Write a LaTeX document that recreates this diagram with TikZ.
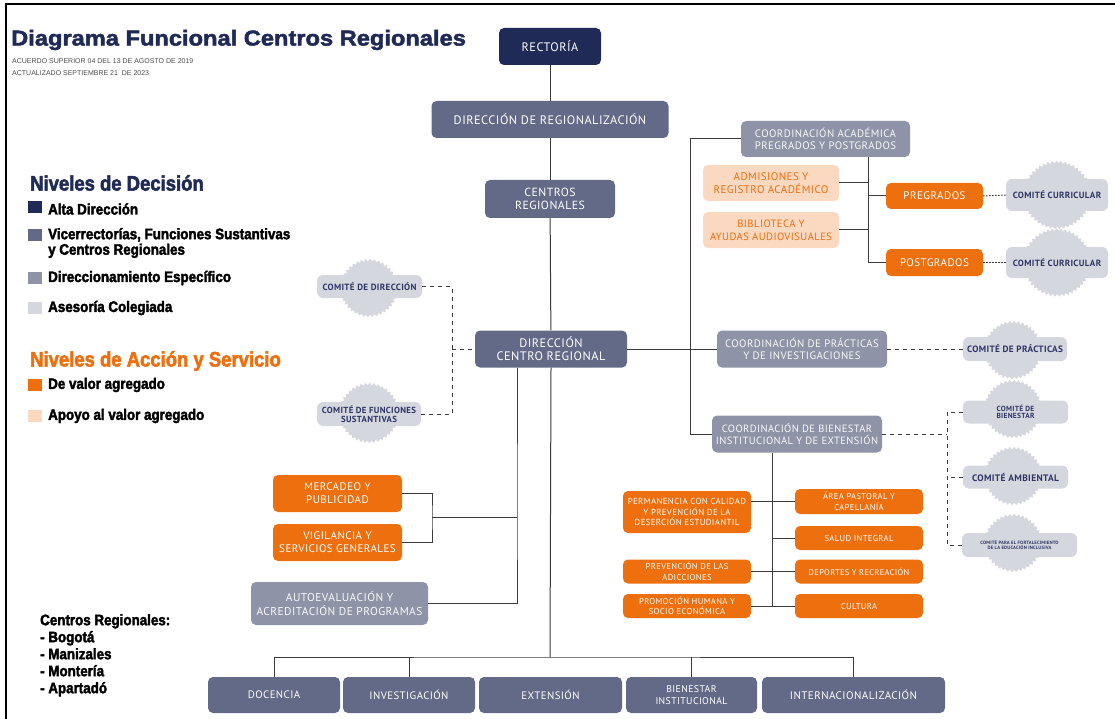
\documentclass[tikz,border=0pt]{standalone}
\usepackage{fontspec}
\setmainfont{PT Sans}[LetterSpace=4]
\newfontfamily\titlefont[FakeStretch=1.1,BoldFeatures={FakeBold=2.2}]{Liberation Sans}
\newfontfamily\legfont[FakeStretch=0.88,BoldFeatures={FakeBold=2.4}]{Liberation Sans}
\newfontfamily\smallfont{Liberation Sans}
\usetikzlibrary{decorations.pathmorphing}
\definecolor{navy}{HTML}{1F2A56}
\definecolor{slate}{HTML}{636A87}
\definecolor{grayb}{HTML}{8E93A7}
\definecolor{comfill}{HTML}{D5D7DE}
\definecolor{orng}{HTML}{EE6F0E}
\definecolor{peach}{HTML}{FBD8C0}
\definecolor{comtext}{HTML}{2E3566}
\definecolor{linec}{HTML}{3A3A3A}
\newcommand\fs[2]{\fontsize{#1}{#2}\selectfont}
\newcommand\burst[2]{\fill[comfill, decorate, decoration={zigzag, segment length=4.4pt, amplitude=1.3pt}] (#1) circle (#2);}
\tikzset{
  bx/.style={rounded corners=5pt, inner sep=1pt, align=center, text=white},
  slatebox/.style={bx, fill=slate},
  graybox/.style={bx, fill=grayb, text=white!94!grayb},
  orbox/.style={bx, fill=orng},
  pebox/.style={bx, fill=peach, text=orng},
  combox/.style={bx, fill=comfill, text=comtext, rounded corners=6pt},
  conn/.style={draw=linec, line width=1pt},
  dsh/.style={draw=linec, line width=1pt, dash pattern=on 4pt off 4pt},
  dots/.style={draw=linec, line width=1pt, dash pattern=on 1.5pt off 1.5pt},
  legsq/.style={minimum width=14, minimum height=12, inner sep=0},
  legtx/.style={anchor=west, font=\legfont\bfseries\fs{15.2}{15.5}, align=left, inner sep=0}
}
\begin{document}
\begin{tikzpicture}[x=1pt,y=-1pt]
\useasboundingbox (0,0) rectangle (1115,719);
% frame
\draw[line width=2pt, black] (6,719) -- (6,4) -- (1115,4);
% title
\node[anchor=west, inner sep=0, text=navy, font=\titlefont\bfseries\fs{21.5}{22}] (title) at (11,40) {Diagrama Funcional Centros Regionales};
\node[anchor=west, inner sep=0, text=black!70, font=\smallfont\fs{7}{7}] (sub1) at (12,61) {ACUERDO SUPERIOR 04 DEL 13 DE AGOSTO DE 2019};
\node[anchor=west, inner sep=0, text=black!70, font=\smallfont\fs{7}{7}] (sub2) at (12,73) {ACTUALIZADO SEPTIEMBRE 21 \ DE 2023};
% legend
\node[anchor=west, inner sep=0, text=navy, font=\legfont\bfseries\fs{21}{22}] (lh1) at (30,183) {Niveles de Decisión};
\node[legsq, fill=navy] (sq1) at (35,207) {};
\node[legtx] (lt1) at (48,209) {Alta Dirección};
\node[legsq, fill=slate] (sq2) at (35,235) {};
\node[legtx] (lt2) at (48,243) {Vicerrectorías, Funciones Sustantivas\\y Centros Regionales};
\node[legsq, fill=grayb] (sq3) at (35,278) {};
\node[legtx] (lt3) at (48,278) {Direccionamiento Específico};
\node[legsq, fill=comfill] (sq4) at (35,308) {};
\node[legtx] (lt4) at (48,308) {Asesoría Colegiada};
\node[anchor=west, inner sep=0, text=orng, font=\legfont\bfseries\fs{21}{22}] (lh2) at (30,361) {Niveles de Acción y Servicio};
\node[legsq, fill=orng] (sq5) at (35,385) {};
\node[legtx] (lt5) at (48,385) {De valor agregado};
\node[legsq, fill=peach] (sq6) at (35,416) {};
\node[legtx] (lt6) at (48,416) {Apoyo al valor agregado};
\node[anchor=north west, inner sep=0, align=left, font=\legfont\bfseries\fs{15.2}{17}] (cr) at (40,614) {Centros Regionales:\\- Bogotá\\- Manizales\\- Montería\\- Apartadó};
% main spine
\node[bx, fill=navy, minimum width=102, minimum height=37, font=\fs{12.3}{14}] (rect) at (550,46.5) {RECTORÍA};
\node[slatebox, minimum width=237, minimum height=37, font=\fs{12.3}{14}] (dreg) at (550,119.5) {DIRECCIÓN DE REGIONALIZACIÓN};
\node[slatebox, minimum width=130, minimum height=38, font=\fs{11.8}{12.5}] (creg) at (550,199) {CENTROS\\REGIONALES};
\node[slatebox, minimum width=152, minimum height=37, font=\fs{12.3}{13}] (dcr) at (551,349) {DIRECCIÓN\\CENTRO REGIONAL};
% right coordinations
\node[graybox, minimum width=169, minimum height=36, font=\fs{10.8}{12.5}] (cacad) at (825.5,139) {COORDINACIÓN ACADÉMICA\\PREGRADOS Y POSTGRADOS};
\node[pebox, minimum width=136, minimum height=36, font=\fs{11}{13}] (adm) at (771,183) {ADMISIONES Y\\REGISTRO ACADÉMICO};
\node[pebox, minimum width=136, minimum height=36, font=\fs{10.6}{13}] (bib) at (771,230) {BIBLIOTECA Y\\AYUDAS AUDIOVISUALES};
\node[orbox, minimum width=97, minimum height=26, font=\fs{11}{12}] (pre) at (934.5,196) {PREGRADOS};
\node[orbox, minimum width=97, minimum height=27, font=\fs{11}{12}] (post) at (934.5,262.5) {POSTGRADOS};
\burst{1057,195}{33}
\node[combox, minimum width=102, minimum height=32, font=\bfseries\fs{9}{10}] (cc1) at (1057,195) {COMITÉ CURRICULAR};
\burst{1057,262.5}{33}
\node[combox, minimum width=102, minimum height=31, font=\bfseries\fs{9}{10}] (cc2) at (1057,262.5) {COMITÉ CURRICULAR};
\node[graybox, minimum width=170, minimum height=37, font=\fs{10.8}{12.5}] (cprac) at (802,349) {COORDINACIÓN DE PRÁCTICAS\\Y DE INVESTIGACIONES};
\burst{1013,350}{28}
\node[combox, minimum width=104, minimum height=24, font=\bfseries\fs{9.2}{10}] (comprac) at (1015,349) {COMITÉ DE PRÁCTICAS};
\node[graybox, minimum width=170, minimum height=37, font=\fs{10.5}{12.5}] (cbien) at (797,434) {COORDINACIÓN DE BIENESTAR\\INSTITUCIONAL Y DE EXTENSIÓN};
\burst{1013,409}{28}
\node[combox, minimum width=105, minimum height=23, font=\bfseries\fs{7.4}{7.4}] (combien) at (1015.5,412) {COMITÉ DE\\BIENESTAR};
\burst{1013,476}{28}
\node[combox, minimum width=105, minimum height=23, font=\bfseries\fs{9.4}{10}] (comamb) at (1015.5,477) {COMITÉ AMBIENTAL};
\burst{1013,543}{28}
\node[combox, minimum width=115, minimum height=24, font=\bfseries\fs{4.7}{5.8}] (comfort) at (1019.5,545) {COMITÉ PARA EL FORTALECIMIENTO\\DE LA EDUCACIÓN INCLUSIVA};
% bienestar children
\node[orbox, minimum width=128, minimum height=42, font=\fs{8.8}{10.5}] (perm) at (687,512) {PERMANENCIA CON CALIDAD\\Y PREVENCIÓN DE LA\\DESERCIÓN ESTUDIANTIL};
\node[orbox, minimum width=128, minimum height=25, font=\fs{8.6}{10.5}] (area) at (859,501.5) {ÁREA PASTORAL Y\\CAPELLANÍA};
\node[orbox, minimum width=128, minimum height=24, font=\fs{8.6}{10.5}] (salud) at (859,538) {SALUD INTEGRAL};
\node[orbox, minimum width=128, minimum height=24, font=\fs{8.6}{10.5}] (prev) at (687,571.5) {PREVENCIÓN DE LAS\\ADICCIONES};
\node[orbox, minimum width=128, minimum height=24, font=\fs{8.4}{10.5}] (dep) at (859,571.5) {DEPORTES Y RECREACIÓN};
\node[orbox, minimum width=128, minimum height=24, font=\fs{8.6}{10.5}] (prom) at (687,606) {PROMOCIÓN HUMANA Y\\SOCIO ECONÓMICA};
\node[orbox, minimum width=128, minimum height=24, font=\fs{8.6}{10.5}] (cult) at (859,606) {CULTURA};
% left side
\burst{369,288}{28}
\node[combox, minimum width=105, minimum height=23, font=\bfseries\fs{9}{10}] (comdir) at (369.5,286.5) {COMITÉ DE DIRECCIÓN};
\burst{369,413}{29}
\node[combox, minimum width=104, minimum height=24, font=\bfseries\fs{8.8}{9.5}] (comfun) at (369,414) {COMITÉ DE FUNCIONES\\SUSTANTIVAS};
\node[orbox, minimum width=129, minimum height=37, font=\fs{11}{13}] (merc) at (337.5,493.5) {MERCADEO Y\\PUBLICIDAD};
\node[orbox, minimum width=129, minimum height=37, font=\fs{11}{13}] (vig) at (337.5,542.5) {VIGILANCIA Y\\SERVICIOS GENERALES};
\node[graybox, minimum width=177, minimum height=43, font=\fs{11.4}{13.5}] (auto) at (339.5,603.5) {AUTOEVALUACIÓN Y\\ACREDITACIÓN DE PROGRAMAS};
% bottom
\node[slatebox, minimum width=132, minimum height=36, font=\fs{10.8}{12}] (doc) at (274,695) {DOCENCIA};
\node[slatebox, minimum width=132, minimum height=36, font=\fs{10.8}{12}] (inv) at (409,695) {INVESTIGACIÓN};
\node[slatebox, minimum width=143, minimum height=36, font=\fs{10.8}{12}] (ext) at (550.5,695) {EXTENSIÓN};
\node[slatebox, minimum width=131, minimum height=36, font=\fs{9.8}{12}] (bin) at (691.5,695) {BIENESTAR\\INSTITUCIONAL};
\node[slatebox, minimum width=183, minimum height=36, font=\fs{11}{12}] (intl) at (853.5,695) {INTERNACIONALIZACIÓN};
% coordinates
\coordinate (bus) at (550,657);
\coordinate (rv) at (690,349);
\coordinate (av) at (868,196);
\coordinate (lv) at (452,349);
\coordinate (bv) at (947,434);
\coordinate (mv) at (432,517);
\coordinate (dv) at (517,517);
\coordinate (wv) at (772,538);
% connectors
\draw[conn] (rect) -- (dreg);
\draw[conn] (dreg) -- (creg);
\draw[conn] (creg) -- (dcr);
\draw[conn] (dcr.south) -- (bus);
\draw[conn] (doc.north) |- (bus) -| (intl.north);
\draw[conn] (inv.north) -- (inv.north |- bus);
\draw[conn] (bin.north) -- (bin.north |- bus);
\draw[conn] (dcr.east) -- (cprac.west);
\draw[conn] (cacad.west) -| (rv) |- (cbien.west);
\draw[conn] (cacad.south -| av) |- (post.west);
\draw[conn] (adm.east) -- (adm.east -| av);
\draw[conn] (bib.east) -- (bib.east -| av);
\draw[conn] (av) -- (pre.west);
\draw[dots] (pre.east) -- (cc1.west);
\draw[dots] (post.east) -- (cc2.west);
\draw[dsh] (cprac.east) -- (comprac.west);
\draw[dsh] (cbien.east) -- (bv);
\draw[dsh] (combien.west) -| (bv) |- (comfort.west);
\draw[dsh] (comamb.west) -- (comamb.west -| bv);
\draw[dsh] (comdir.east) -| (lv) |- (comfun.east);
\draw[dsh] (lv) -- (dcr.west);
\draw[conn] (dcr.south -| dv) -- (dv) |- (auto.east);
\draw[conn] (merc.east) -| (mv) |- (vig.east);
\draw[conn] (mv) -- (dv);
\draw[conn] (cbien.south -| wv) -- (wv |- prom.east);
\draw[conn] (area.west -| perm.east) -- (area.west);
\draw[conn] (wv) -- (salud.west);
\draw[conn] (prev.east) -- (dep.west);
\draw[conn] (prom.east) -- (cult.west);
\end{tikzpicture}
\end{document}
